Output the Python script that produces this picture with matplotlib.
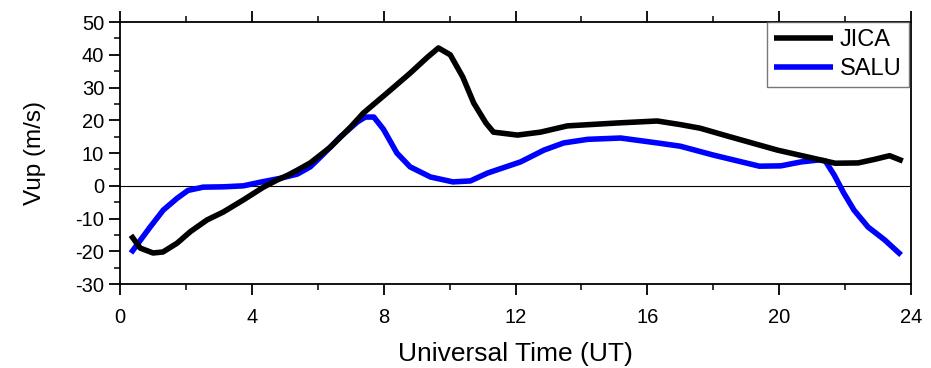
import matplotlib
matplotlib.use("Agg")
import matplotlib.pyplot as plt
from matplotlib.ticker import MultipleLocator

plt.rcParams['font.family'] = ['Liberation Sans', 'DejaVu Sans']
plt.rcParams['axes.unicode_minus'] = False

jica_t = [0.33, 0.61, 1.0, 1.3, 1.73, 2.13, 2.64, 3.13, 3.74, 4.35, 4.77, 5.1, 5.38, 5.77, 6.38, 6.99,
          7.38, 8.2, 8.8, 9.33, 9.66, 10.02, 10.4, 10.73, 11.1, 11.33, 12.06, 12.76, 13.57,
          15.1, 16.3, 17.0, 17.6, 18.5, 19.95, 21.0, 21.7, 22.4, 22.9, 23.35, 23.75]
jica_v = [-15.1, -19.0, -20.5, -20.2, -17.5, -14.0, -10.4, -8.0, -4.3, -0.4, 1.8, 3.3, 4.8, 7.0, 11.8, 17.9,
          22.2, 29.2, 34.4, 39.3, 42.1, 40.0, 33.2, 25.3, 19.2, 16.4, 15.5, 16.4, 18.3,
          19.2, 19.8, 18.7, 17.6, 15.0, 10.9, 8.5, 6.9, 7.0, 8.1, 9.2, 7.6]

salu_t = [0.33, 0.91, 1.31, 1.73, 2.06, 2.52, 3.13, 3.74, 4.25, 4.86, 5.38, 5.77, 6.08, 6.68, 7.2, 7.44,
          7.7, 7.99, 8.4, 8.8, 9.42, 10.1, 10.63, 11.15, 12.15, 12.86, 13.46, 14.19, 15.19,
          16.3, 17.0, 18.0, 19.4, 20.05, 20.66, 21.2, 21.4, 21.67, 21.96, 22.27, 22.7, 23.2, 23.7]
salu_v = [-20.5, -12.6, -7.4, -3.8, -1.4, -0.4, -0.3, 0.0, 1.1, 2.3, 3.6, 5.8, 8.8, 14.9, 19.5, 21.0,
          21.0, 17.3, 10.0, 5.8, 2.7, 1.2, 1.5, 3.9, 7.3, 10.9, 13.1, 14.2, 14.6,
          13.1, 12.1, 9.4, 6.0, 6.1, 7.3, 7.9, 7.6, 3.3, -2.2, -7.4, -12.6, -16.5, -21.1]

series_names = ['JICA', 'SALU']
series_colors = ['black', '#0000ff']

fig = plt.figure(figsize=(9.31, 3.68), dpi=100)
ax = fig.add_axes([0.129, 0.228, 0.8495, 0.712])

ax.axhline(0, color='black', lw=0.8, zorder=1)
ax.plot(jica_t, jica_v, color=series_colors[0], lw=4.0, label=series_names[0],
        solid_joinstyle='round', solid_capstyle='butt', zorder=3)
ax.plot(salu_t, salu_v, color=series_colors[1], lw=4.0, label=series_names[1],
        solid_joinstyle='round', solid_capstyle='butt', zorder=2)

ax.set_xlim(0, 24)
ax.set_ylim(-30, 50)
ax.xaxis.set_major_locator(MultipleLocator(4))
ax.xaxis.set_minor_locator(MultipleLocator(2))
ax.yaxis.set_major_locator(MultipleLocator(10))
ax.yaxis.set_minor_locator(MultipleLocator(5))

for s in ax.spines.values():
    s.set_linewidth(1.3)

ax.tick_params(axis='both', which='major', direction='out', length=8, width=1.3,
               labelsize=14.5, pad=3.5)
ax.tick_params(axis='both', which='minor', direction='out', length=4.5, width=1.1)
ax.tick_params(axis='x', which='both', top=True, labeltop=False)
ax.tick_params(axis='x', which='major', pad=9)
ax.tick_params(axis='y', which='both', right=False)

ax.set_xlabel('Universal Time (UT)', fontsize=19, labelpad=11)
ax.set_ylabel('Vup (m/s)', fontsize=17.5, labelpad=21)

leg = ax.legend(loc='upper right', fontsize=17, frameon=True, fancybox=False,
                edgecolor='#555555', handlelength=2.5, handletextpad=0.3,
                borderpad=0.3, labelspacing=0.3, borderaxespad=0.0,
                bbox_to_anchor=(0.997, 1.0))
leg.get_frame().set_linewidth(1.0)

fig.savefig('out.png', dpi=100, facecolor='white')
